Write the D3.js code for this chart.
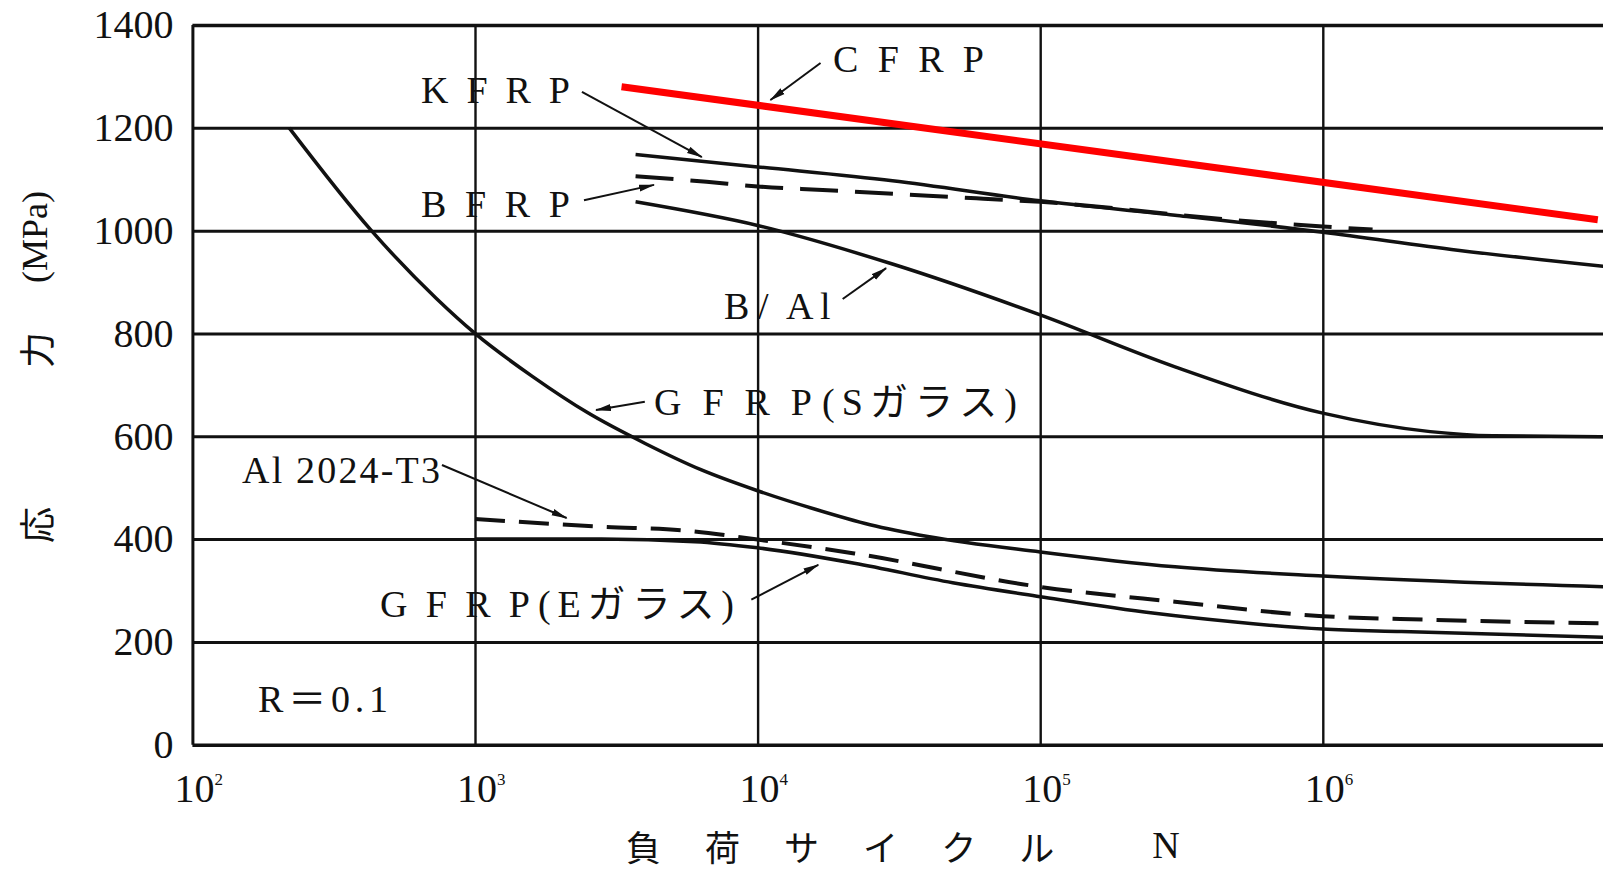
<!DOCTYPE html>
<html>
<head>
<meta charset="utf-8">
<script src="https://cdn.jsdelivr.net/npm/d3@7"></script>
<style>
  body { margin: 0; background: #fff; }
  svg { display: block; }
</style>
</head>
<body>
<svg id="chart"></svg>
<script>
// S-N curves, R = 0.1  (N = load cycles, stress in MPa)
var decades = [2, 3, 4, 5, 6, 7];
var yTicks = [0, 200, 400, 600, 800, 1000, 1200, 1400];

var cfrp = [[3.3e3, 1280], [9.4e6, 1021]];
var kfrp = [[3.7e3, 1148], [1e4, 1124], [3e4, 1097], [1e5, 1058], [3e5, 1030], [1e6, 997], [3e6, 962], [1e7, 930]];
var bfrp = [[3.7e3, 1106], [6.6e3, 1095], [1e4, 1086], [1.7e4, 1079], [6.3e4, 1062], [1e5, 1056], [5e5, 1020], [1e6, 1008], [1.5e6, 1002]];
var bal = [[3.7e3, 1056], [1e4, 1010], [3e4, 935], [1e5, 836], [3e5, 735], [1e6, 645], [2.4e6, 609], [4e6, 601], [1e7, 599]];
var gfrpS = [[220, 1200], [430, 1000], [730, 868], [1e3, 800], [1.6e3, 716], [2.5e3, 646], [4e3, 586], [6.3e3, 535], [1e4, 494], [1.6e4, 458], [2.5e4, 428], [4e4, 405], [1e5, 375], [3e5, 346], [1e6, 328], [1e7, 307]];
var al2024 = [[1e3, 439], [2.8e3, 424], [5.7e3, 416], [1e4, 399], [2.2e4, 372], [1e5, 307], [3e5, 278], [1e6, 250], [2.4e6, 243], [1e7, 236]];
var gfrpE = [[1e3, 400], [2.8e3, 400], [6e3, 395], [1e4, 383], [2.2e4, 353], [4.9e4, 315], [1e5, 288], [2.5e5, 256], [4.8e5, 239], [1e6, 225], [1.9e6, 220], [1e7, 209]];

// leader arrows, [from, to] in (N, MPa)
var arrowCFRP = [[1.67e4, 1326], [1.11e4, 1254]];
var arrowKFRP = [[2.39e3, 1270], [6.35e3, 1143]];
var arrowBFRP = [[2.43e3, 1059], [4.3e3, 1089]];
var arrowBAl = [[2.0e4, 867], [2.85e4, 927]];
var arrowGS = [[3.99e3, 667], [2.68e3, 651]];
var arrowAl = [[764, 544], [2.11e3, 441]];
var arrowGE = [[9.5e3, 282], [1.64e4, 350]];

var serif = "'Liberation Serif', 'DejaVu Serif', serif";
var mixed = "'Liberation Serif', 'Noto Sans CJK JP', serif";
var cjk = "'Noto Sans CJK JP', sans-serif";
var ink = "#111";

var width = 1603, height = 869;
var plot = {left: 192.4, right: 1605.4, top: 25, bottom: 744.7};

var svg = d3.select("#chart")
    .attr("width", width)
    .attr("height", height)
    .style("background", "#fff");

var x = d3.scaleLog().domain([1e2, 1e7]).range([plot.left, plot.right]);
var y = d3.scaleLinear().domain([0, 1400]).range([plot.bottom, plot.top]);

// horizontal grid + y labels
var gy = svg.append("g")
    .attr("transform", "translate(" + plot.left + ",0)")
    .call(d3.axisLeft(y)
        .tickValues(yTicks)
        .tickSize(-(plot.right - plot.left))
        .tickPadding(19)
        .tickFormat(d3.format("d")));
gy.select(".domain").remove();
gy.selectAll(".tick line")
    .attr("stroke", ink)
    .attr("stroke-width", function(d) { return (d === 0 || d === 1400) ? 3.5 : 3; });
gy.selectAll(".tick text")
    .attr("fill", ink)
    .style("font-family", serif)
    .style("font-size", "40px");

// vertical grid
var gx = svg.append("g")
    .attr("transform", "translate(0," + plot.bottom + ")")
    .call(d3.axisBottom(x)
        .tickValues(decades.map(function(e) { return Math.pow(10, e); }))
        .tickSize(-(plot.bottom - plot.top))
        .tickFormat(""));
gx.select(".domain").remove();
gx.selectAll(".tick line")
    .attr("stroke", ink)
    .attr("stroke-width", function(d, i) { return i === 0 ? 3 : 2.4; });

// x labels 10^n
var xl = svg.append("g").selectAll("text")
    .data(decades.slice(0, 5))
    .join("text")
    .attr("x", function(e) { return x(Math.pow(10, e)) - 18; })
    .attr("y", 802)
    .attr("fill", ink)
    .style("font-family", serif)
    .style("font-size", "40px");
xl.append("tspan").text("10");
xl.append("tspan")
    .attr("dy", -17)
    .style("font-size", "17px")
    .text(function(e) { return e; });

// curves
var line = d3.line()
    .x(function(d) { return x(d[0]); })
    .y(function(d) { return y(d[1]); })
    .curve(d3.curveMonotoneX);

var series = [
    {data: gfrpS, dash: null, w: 3.5},
    {data: bal, dash: null, w: 3.5},
    {data: kfrp, dash: null, w: 3.5},
    {data: bfrp, dash: "38 17", w: 4},
    {data: gfrpE, dash: null, w: 3.5},
    {data: al2024, dash: "30 14", w: 4}
];

svg.append("g").selectAll("path")
    .data(series)
    .join("path")
    .attr("d", function(s) { return line(s.data); })
    .attr("fill", "none")
    .attr("stroke", ink)
    .attr("stroke-width", function(s) { return s.w; })
    .attr("stroke-dasharray", function(s) { return s.dash; });

svg.append("path")
    .attr("d", d3.line().x(function(d) { return x(d[0]); }).y(function(d) { return y(d[1]); })(cfrp))
    .attr("fill", "none")
    .attr("stroke", "#ff0000")
    .attr("stroke-width", 7);

// arrows
svg.append("defs").append("marker")
    .attr("id", "head")
    .attr("markerUnits", "userSpaceOnUse")
    .attr("viewBox", "0 0 16 8")
    .attr("refX", 15)
    .attr("refY", 4)
    .attr("markerWidth", 16)
    .attr("markerHeight", 8)
    .attr("orient", "auto")
    .append("path")
    .attr("d", "M0,0.5 L16,4 L0,7.5 Z")
    .attr("fill", ink);

svg.append("g").selectAll("line")
    .data([arrowCFRP, arrowKFRP, arrowBFRP, arrowBAl, arrowGS, arrowAl, arrowGE])
    .join("line")
    .attr("x1", function(a) { return x(a[0][0]); })
    .attr("y1", function(a) { return y(a[0][1]); })
    .attr("x2", function(a) { return x(a[1][0]); })
    .attr("y2", function(a) { return y(a[1][1]); })
    .attr("stroke", ink)
    .attr("stroke-width", 2)
    .attr("marker-end", "url(#head)");

// curve labels
var labels = [
    {t: "CFRP", x: 833, y: 72, len: 151},
    {t: "KFRP", x: 421, y: 103, len: 149},
    {t: "BFRP", x: 421, y: 217, len: 149},
    {t: "GFRP", x: 654, y: 415, len: 158},
    {t: "(Sガラス)", x: 822, y: 415, len: 195},
    {t: "Al 2024-T3", x: 242, y: 483, len: 198},
    {t: "GFRP", x: 380, y: 617, len: 150},
    {t: "(Eガラス)", x: 538, y: 617, len: 196},
    {t: "R＝0.1", x: 258, y: 712, len: 130}
];
svg.append("g").selectAll("text")
    .data(labels)
    .join("text")
    .attr("x", function(d) { return d.x; })
    .attr("y", function(d) { return d.y; })
    .attr("textLength", function(d) { return d.len; })
    .attr("lengthAdjust", "spacing")
    .attr("fill", ink)
    .style("font-family", mixed)
    .style("font-size", "38px")
    .text(function(d) { return d.t; });

var bal_t = svg.append("text")
    .attr("y", 319)
    .attr("fill", ink)
    .style("font-family", serif)
    .style("font-size", "38px");
bal_t.append("tspan").attr("x", 724).text("B");
bal_t.append("tspan").attr("x", 758).text("/");
bal_t.append("tspan").attr("x", 786).text("A");
bal_t.append("tspan").attr("x", 820).text("l");

// axis titles
var ytitle = [
    {t: "応", y: 525, f: cjk},
    {t: "力", y: 350, f: cjk},
    {t: "(MPa)", y: 237, f: serif}
];
svg.append("g").selectAll("text")
    .data(ytitle)
    .join("text")
    .attr("transform", function(d) { return "translate(35," + d.y + ") rotate(-90)"; })
    .attr("text-anchor", "middle")
    .attr("dominant-baseline", "central")
    .attr("fill", ink)
    .style("font-family", function(d) { return d.f; })
    .style("font-size", "36px")
    .text(function(d) { return d.t; });

svg.append("text")
    .attr("x", 626)
    .attr("y", 845)
    .attr("dominant-baseline", "central")
    .attr("fill", ink)
    .style("font-family", cjk)
    .style("font-size", "35px")
    .style("letter-spacing", "44px")
    .text("負荷サイクル");

svg.append("text")
    .attr("x", 1166)
    .attr("y", 845)
    .attr("text-anchor", "middle")
    .attr("dominant-baseline", "central")
    .attr("fill", ink)
    .style("font-family", serif)
    .style("font-size", "38px")
    .text("N");
</script>
</body>
</html>
